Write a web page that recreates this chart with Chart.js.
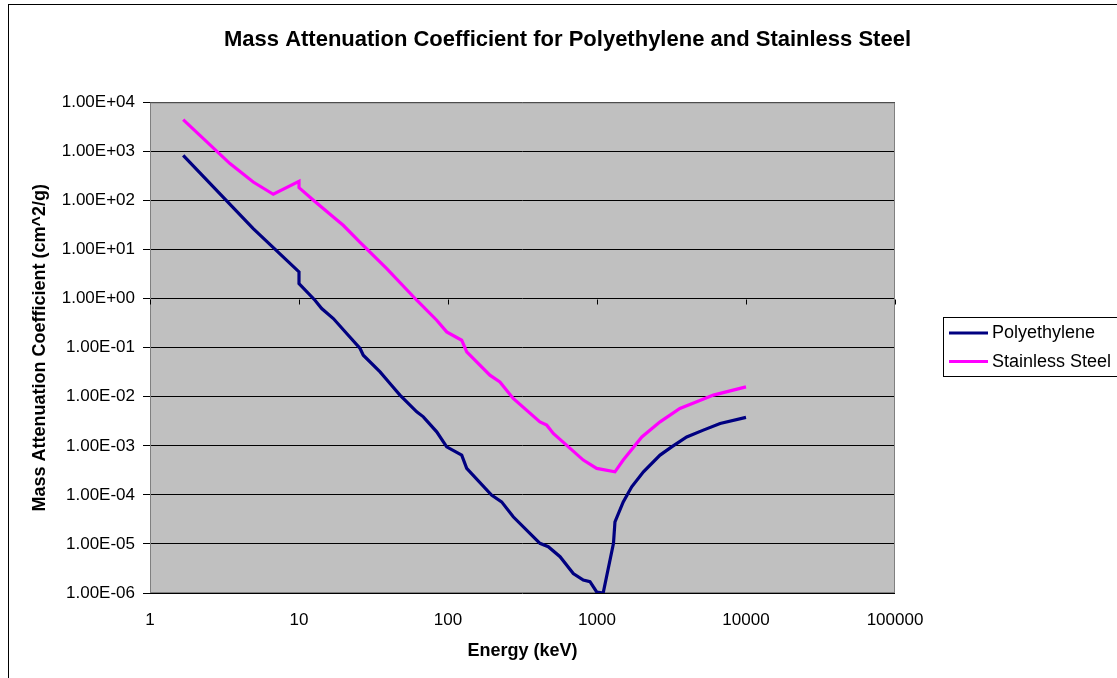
<!DOCTYPE html>
<html><head><meta charset="utf-8">
<script src="https://cdn.jsdelivr.net/npm/chart.js@4.4.1/dist/chart.umd.min.js"></script>
<style>
html,body{margin:0;padding:0;background:#fff;overflow:hidden;width:1117px;height:678px;}
#frame{position:absolute;left:8px;top:4px;width:1200px;height:800px;border:1px solid #000;box-sizing:border-box;}
#c{position:absolute;left:0;top:0;}
</style></head><body>
<div id="frame"></div>
<canvas id="c" width="1117" height="678"></canvas>
<script>
const chartTitle = 'Mass Attenuation Coefficient for Polyethylene and Stainless Steel';
const xAxisTitle = 'Energy (keV)';
const yAxisTitle = 'Mass Attenuation Coefficient (cm^2/g)';
const xTickValues = [1, 10, 100, 1000, 10000, 100000];
const xTickLabels = ['1', '10', '100', '1000', '10000', '100000'];
const yTickValues = [1e-6, 1e-5, 1e-4, 1e-3, 1e-2, 1e-1, 1e0, 1e1, 1e2, 1e3, 1e4];
const yTickLabels = ['1.00E-06', '1.00E-05', '1.00E-04', '1.00E-03', '1.00E-02', '1.00E-01', '1.00E+00', '1.00E+01', '1.00E+02', '1.00E+03', '1.00E+04'];
const seriesNames = ['Polyethylene', 'Stainless Steel'];
const seriesColors = ['#000080', '#FF00FF'];

const polyEnergy = [1.67, 4.93, 10, 10, 12.8, 14.2, 17.0, 20.9, 25.7, 27.0, 35.0, 40.8, 47.6, 61.7, 68.3, 84, 98, 123.6, 133.5, 196, 229, 274, 414, 471, 565, 693, 809, 897, 995, 1100, 1290, 1320, 1500, 1710, 2050, 2650, 3170, 4000, 5170, 6700, 10000];
const polyCoeff = [833, 26.8, 3.5, 2.03, 0.927, 0.628, 0.393, 0.195, 0.0964, 0.0703, 0.0321, 0.0187, 0.0108, 0.00492, 0.0039, 0.00193, 0.000955, 0.000647, 0.000347, 9.9e-5, 7.2e-5, 3.58e-5, 1.03e-5, 8.8e-6, 5.5e-6, 2.5e-6, 1.84e-6, 1.7e-6, 1.05e-6, 1.0e-6, 1.03e-5, 2.83e-5, 7.2e-5, 1.46e-4, 2.95e-4, 6.47e-4, 9.5e-4, 1.52e-3, 2.09e-3, 2.86e-3, 3.79e-3];

const steelEnergy = [1.67, 3.44, 4.93, 6.72, 10, 10, 12.5, 17.0, 19.8, 25.7, 38.8, 61.7, 84, 98, 123.6, 133.5, 191, 223, 274, 414, 460, 509, 809, 995, 1320, 1500, 2000, 2650, 3600, 4670, 6040, 10000];
const steelCoeff = [4444, 565, 238, 134, 246, 183, 101, 46.1, 31.3, 14.0, 4.10, 0.927, 0.363, 0.210, 0.142, 0.082, 0.0275, 0.0201, 0.00923, 0.00308, 0.00264, 0.00179, 5.12e-4, 3.47e-4, 2.95e-4, 5.12e-4, 1.52e-3, 3.08e-3, 5.78e-3, 7.87e-3, 1.08e-2, 1.59e-2];

const F = "'Liberation Sans', Arial, sans-serif";
const toPts = (xs, ys) => xs.map((x, i) => ({x: x, y: ys[i]}));

const decor = {
  id: 'decor',
  beforeDraw(chart) {
    const {ctx, chartArea: a} = chart;
    ctx.save();
    ctx.fillStyle = '#C0C0C0';
    ctx.fillRect(a.left, a.top, a.right - a.left, a.bottom - a.top);
    ctx.restore();
  },
  beforeDatasetsDraw(chart) {
    const {ctx, chartArea: a, scales} = chart;
    ctx.save();
    ctx.strokeStyle = '#808080';
    ctx.lineWidth = 1;
    ctx.strokeRect(a.left + 0.5, a.top + 0.5, a.right - a.left - 1, a.bottom - a.top - 1);
    const y1 = Math.round(scales.y.getPixelForValue(1)) + 0.5;
    ctx.strokeStyle = '#000';
    ctx.beginPath();
    xTickValues.forEach(v => {
      const px = Math.round(scales.x.getPixelForValue(v)) + 0.5;
      ctx.moveTo(px, y1); ctx.lineTo(px, y1 + 5);
    });
    ctx.stroke();
    ctx.restore();
  },
  afterDraw(chart) {
    const ctx = chart.ctx;
    ctx.save();
    ctx.strokeStyle = '#000';
    ctx.lineWidth = 1;
    ctx.strokeRect(943.5, 317.5, 200, 59);
    ctx.font = '18px ' + F;
    ctx.textBaseline = 'middle';
    ctx.fillStyle = '#000';
    chart.data.datasets.forEach((ds, i) => {
      const y = 333 + i * 28.5;
      ctx.strokeStyle = ds.borderColor;
      ctx.lineWidth = 3;
      ctx.beginPath(); ctx.moveTo(949, y); ctx.lineTo(988, y); ctx.stroke();
      ctx.fillText(ds.label, 992, y + 0.5);
    });
    ctx.restore();
  }
};

new Chart(document.getElementById('c'), {
  type: 'scatter',
  data: {
    datasets: [
      {label: seriesNames[0], data: toPts(polyEnergy, polyCoeff), borderColor: seriesColors[0], backgroundColor: seriesColors[0], showLine: true, borderWidth: 3.2, pointRadius: 0, tension: 0, yAxisID: 'y'},
      {label: seriesNames[1], data: toPts(steelEnergy, steelCoeff), borderColor: seriesColors[1], backgroundColor: seriesColors[1], showLine: true, borderWidth: 3.2, pointRadius: 0, tension: 0, yAxisID: 'y'}
    ]
  },
  options: {
    responsive: false,
    animation: false,
    layout: {padding: {left: 18, right: 0, top: 0, bottom: 0}},
    plugins: {
      legend: {display: false},
      tooltip: {enabled: false},
      title: {display: true, text: chartTitle, color: '#000', font: {family: F, size: 22, weight: 'bold'}, padding: {top: 27, bottom: 49}}
    },
    scales: {
      x: {
        type: 'logarithmic', min: 1, max: 100000, position: 'bottom',
        afterBuildTicks: s => { s.ticks = xTickValues.map(v => ({value: v})); },
        afterFit: s => { s.height = 85; },
        grid: {display: false, drawTicks: false},
        border: {display: false},
        ticks: {padding: 17, color: '#000', font: {family: F, size: 17}, autoSkip: false, maxRotation: 0, callback: (v, i) => xTickLabels[i]},
        title: {display: true, text: xAxisTitle, color: '#000', font: {family: F, size: 18, weight: 'bold'}, padding: {top: 0, bottom: 16}}
      },
      y: {
        type: 'logarithmic', min: 1e-6, max: 1e4, position: 'left',
        afterBuildTicks: s => { s.ticks = yTickValues.map(v => ({value: v})); },
        afterFit: s => { s.width = 132; },
        grid: {color: '#000', lineWidth: 1, drawTicks: true, tickLength: 7},
        border: {display: false},
        ticks: {padding: 8, color: '#000', font: {family: F, size: 17}, autoSkip: false, callback: (v, i) => yTickLabels[i]},
        title: {display: true, text: yAxisTitle, color: '#000', font: {family: F, size: 18, weight: 'bold'}, padding: {top: 11, bottom: 0}}
      },
      legendSpace: {
        type: 'linear', position: 'right', display: true,
        afterFit: s => { s.width = 222; },
        grid: {display: false, drawTicks: false},
        border: {display: false},
        ticks: {display: false}
      }
    }
  },
  plugins: [decor]
});
</script>
</body></html>
